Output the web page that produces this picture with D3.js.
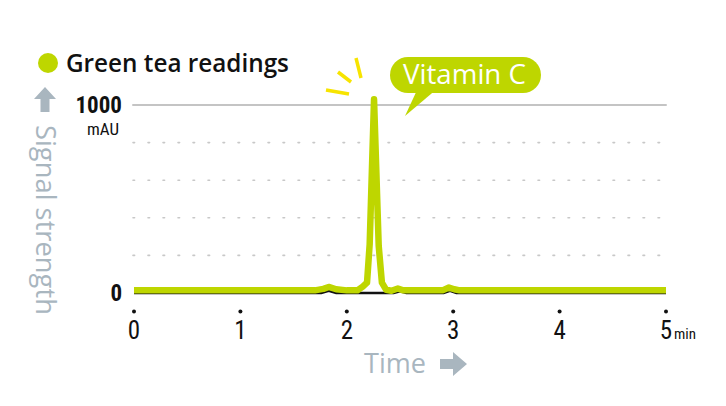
<!DOCTYPE html>
<html><head><meta charset="utf-8">
<script src="https://cdn.jsdelivr.net/npm/d3@7"></script>
<style>
html,body{margin:0;padding:0;background:#fff;}
svg{display:block;}
.cond{font-family:"Liberation Sans Narrow","Roboto Condensed","Liberation Sans",Arial,sans-serif;}
.round{font-family:"Open Sans","Noto Sans","Lato",sans-serif;}
</style>
</head><body>
<svg id="c" width="726" height="406"></svg>
<script>
// ---- data ----
const seriesName = "Green tea readings";
const peakLabel = "Vitamin C";
const xTicks = [0, 1, 2, 3, 4, 5];
const yTicks = [0, 200, 400, 600, 800, 1000];
const yTickLabels = ["0", "", "", "", "", "1000"];
const greenTime  = [0, 1.70, 1.78, 1.83, 1.90, 2.00, 2.10, 2.15, 2.19, 2.215, 2.256, 2.30, 2.33, 2.37, 2.42, 2.48, 2.53, 2.60, 2.90, 2.96, 3.01, 3.06, 5];
const greenValue = [14, 14, 22, 32, 20, 14, 14, 34, 55, 260, 1030, 250, 55, 17, 12, 24, 14, 14, 14, 29, 20, 14, 14];
const blackTime  = [0, 1.76, 1.83, 1.90, 2.44, 2.50, 2.56, 2.91, 2.97, 3.03, 5];
const blackValue = [0, 0, 12, 0, 0, 9, 0, 0, 11, 0, 0];

const svg = d3.select("#c");
const x = d3.scaleLinear().domain([0, 5]).range([134, 666]);
const y = d3.scaleLinear().domain([0, 1000]).range([293, 105]);
const green = "#bed600";

// fit a text's font-size so its width matches the target
function fit(sel, width) {
  const w = sel.node().getComputedTextLength();
  const fs = parseFloat(sel.attr("font-size"));
  if (w > 0) sel.attr("font-size", (fs * width / w).toFixed(2));
  return sel;
}

// gridlines
yTicks.filter(v => v > 0).forEach(v => {
  svg.append("line")
    .attr("x1", x(0) - 1).attr("x2", x(5))
    .attr("y1", y(v)).attr("y2", y(v))
    .attr("stroke", v === 1000 ? "#c4c4c4" : "#c8c8c8")
    .attr("stroke-width", v === 1000 ? 2 : 1.6)
    .attr("stroke-dasharray", v === 1000 ? null : "1.6,13.4")
    .attr("stroke-linecap", "round");
});

// y tick labels
yTicks.forEach((v, i) => {
  if (!yTickLabels[i]) return;
  svg.append("text").attr("class", "cond")
    .attr("x", 122).attr("y", y(v) + 8)
    .attr("text-anchor", "end")
    .attr("font-size", 23).attr("font-weight", "bold")
    .attr("fill", "#111").text(yTickLabels[i]);
});
svg.append("text").attr("class", "cond")
  .attr("x", 103).attr("y", y(1000) + 30)
  .attr("text-anchor", "middle").attr("font-size", 17)
  .attr("fill", "#111").text("mAU");

// y title + arrow
svg.append("path")
  .attr("d", "M45,87 L56,99 L49.5,99 L49.5,112 L40.5,112 L40.5,99 L34,99 Z")
  .attr("fill", "#a9b6bf");
fit(svg.append("text").attr("class", "round")
  .attr("transform", "translate(36,125) rotate(90)")
  .attr("font-size", 24).attr("fill", "#a9b6bf")
  .text("Signal strength"), 190);

// x axis ticks
const xAxis = svg.append("g");
xTicks.forEach(t => {
  xAxis.append("circle").attr("cx", x(t)).attr("cy", 311.5).attr("r", 2).attr("fill", "#111");
  xAxis.append("text").attr("class", "cond")
    .attr("x", x(t)).attr("y", 339)
    .attr("text-anchor", "middle").attr("font-size", 25)
    .attr("fill", "#111").text(t);
});
svg.append("text").attr("class", "cond")
  .attr("x", x(5) + 8).attr("y", 339)
  .attr("font-size", 15).attr("fill", "#111").text("min");

// x title + arrow
fit(svg.append("text").attr("class", "round")
  .attr("x", 364).attr("y", 373)
  .attr("font-size", 24)
  .attr("fill", "#a9b6bf").text("Time"), 62);
svg.append("path")
  .attr("d", "M440,359 L453,359 L453,352 L467,364 L453,376 L453,369 L440,369 Z")
  .attr("fill", "#a9b6bf");

// lines
const line = d3.line().x(d => x(d[0])).y(d => y(d[1]));
svg.append("path")
  .datum(blackTime.map((t, i) => [t, blackValue[i]]))
  .attr("d", line).attr("fill", "none")
  .attr("stroke", "#111").attr("stroke-width", 2.5);
svg.append("path")
  .datum(greenTime.map((t, i) => [t, greenValue[i]]))
  .attr("d", line).attr("fill", "none")
  .attr("stroke", green).attr("stroke-width", 6.5)
  .attr("stroke-linejoin", "round");

// sparkle dashes
[[326, 90, 349, 94], [338, 72, 351, 82], [356, 58, 361, 78]].forEach(s => {
  svg.append("line").attr("x1", s[0]).attr("y1", s[1]).attr("x2", s[2]).attr("y2", s[3])
    .attr("stroke", "#f7e400").attr("stroke-width", 3.5);
});

// callout
svg.append("path")
  .attr("d", "M418,88 L405,116 L438,88 Z").attr("fill", green);
svg.append("rect")
  .attr("x", 390).attr("y", 57).attr("width", 151).attr("height", 36)
  .attr("rx", 18).attr("fill", green);
fit(svg.append("text").attr("class", "round")
  .attr("x", 403).attr("y", 84)
  .attr("font-size", 24)
  .attr("fill", "#fff").text(peakLabel), 123);

// legend
svg.append("circle").attr("cx", 48).attr("cy", 63).attr("r", 10).attr("fill", green);
fit(svg.append("text").attr("class", "round")
  .attr("x", 66).attr("y", 72)
  .attr("font-size", 23).attr("font-weight", 600)
  .attr("fill", "#111").text(seriesName), 223);
</script>
</body></html>
